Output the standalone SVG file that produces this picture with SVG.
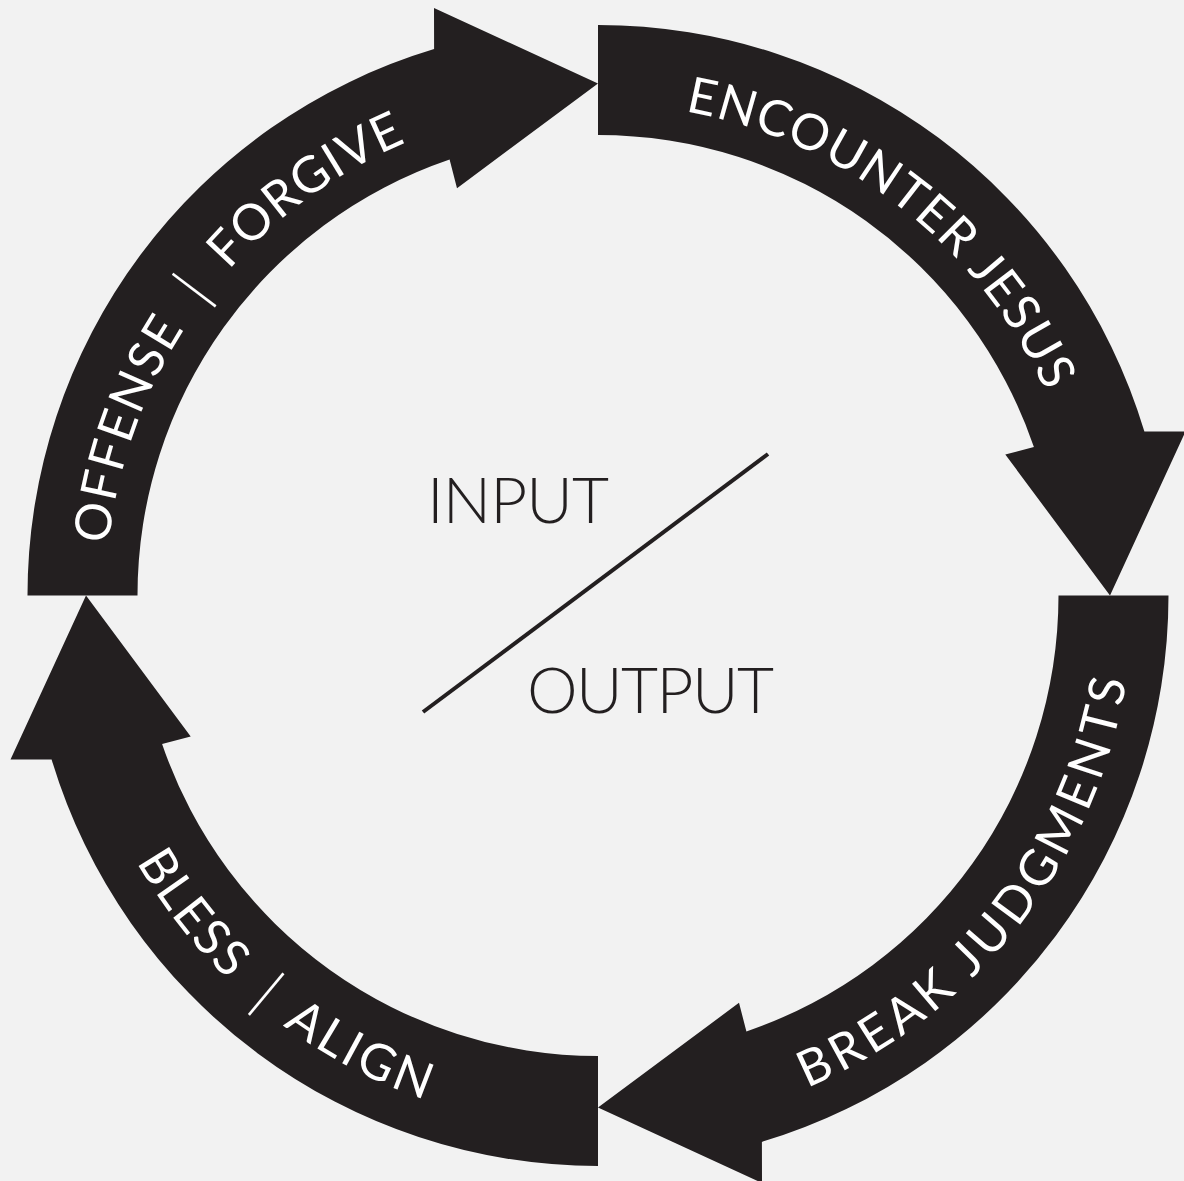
<svg xmlns="http://www.w3.org/2000/svg" xmlns:xlink="http://www.w3.org/1999/xlink" width="1184" height="1181" viewBox="0 0 1184 1181">
  <style>
    .shape { fill: #231f20; }
    .lbl { fill: #ffffff; font-family: Lato, "Open Sans", "Liberation Sans", sans-serif; font-size: 50px; font-weight: 400; }
    .bar { font-family: "DejaVu Sans", sans-serif; font-weight: 200; font-size: 54px; }
    .center { fill: #231f20; font-family: Lato, "Open Sans", "Liberation Sans", sans-serif; font-size: 64px; font-weight: 300; }
    .divider { stroke: #231f20; stroke-width: 4; fill: none; }
  </style>
  <defs>
    <path id="arrow" d="M0,-570.5 A570.5,570.5 0 0 1 546.4,-163.9 L587.5,-164 L512,0 L407.3,-141 L435.9,-148.4 A460.5,460.5 0 0 0 0,-460.5 Z"/>
    <path id="p-encounter" d="M685.1,111.3 A492,492 0 0 1 1082.5,510.1"/>
    <path id="p-break" d="M807,1088 A535,535 0 0 0 1131,548.9"/>
    <path id="p-bless" d="M136.4,862 A533,533 0 0 0 551.5,1126.5"/>
    <path id="p-offense" d="M108.7,544.1 A492,492 0 0 1 512.6,111"/>
  </defs>
  <rect x="0" y="0" width="1184" height="1181" fill="#f2f2f2"/>
  <g id="connectors">
    <g id="step-encounter-jesus">
      <use href="#arrow" class="shape" transform="translate(598 595.5)"/>
      <text class="lbl"><textPath href="#p-encounter" textLength="475" lengthAdjust="spacing">ENCOUNTER JESUS</textPath></text>
    </g>
    <g id="step-break-judgments">
      <use href="#arrow" class="shape" transform="translate(598 595.5) rotate(90)"/>
      <text class="lbl"><textPath href="#p-break" textLength="540" lengthAdjust="spacing">BREAK JUDGMENTS</textPath></text>
    </g>
    <g id="step-bless-align">
      <use href="#arrow" class="shape" transform="translate(598 595.5) rotate(180)"/>
      <text class="lbl"><textPath href="#p-bless" textLength="150" lengthAdjust="spacing">BLESS</textPath><textPath href="#p-bless" startOffset="188" text-anchor="middle" class="bar">|</textPath><textPath href="#p-bless" startOffset="221" textLength="161" lengthAdjust="spacing">ALIGN</textPath></text>
    </g>
    <g id="step-offense-forgive">
      <use href="#arrow" class="shape" transform="translate(598 595.5) rotate(270)"/>
      <text class="lbl"><textPath href="#p-offense" textLength="230" lengthAdjust="spacing">OFFENSE</textPath><textPath href="#p-offense" startOffset="267" text-anchor="middle" class="bar">|</textPath><textPath href="#p-offense" startOffset="304" textLength="220" lengthAdjust="spacing">FORGIVE</textPath></text>
    </g>
  </g>
  <g id="center-io">
    <text class="center" x="427" y="523" textLength="182" lengthAdjust="spacing">INPUT</text>
    <line class="divider" x1="423" y1="712" x2="768" y2="454"/>
    <text class="center" x="527" y="713" textLength="247" lengthAdjust="spacing">OUTPUT</text>
  </g>
</svg>
